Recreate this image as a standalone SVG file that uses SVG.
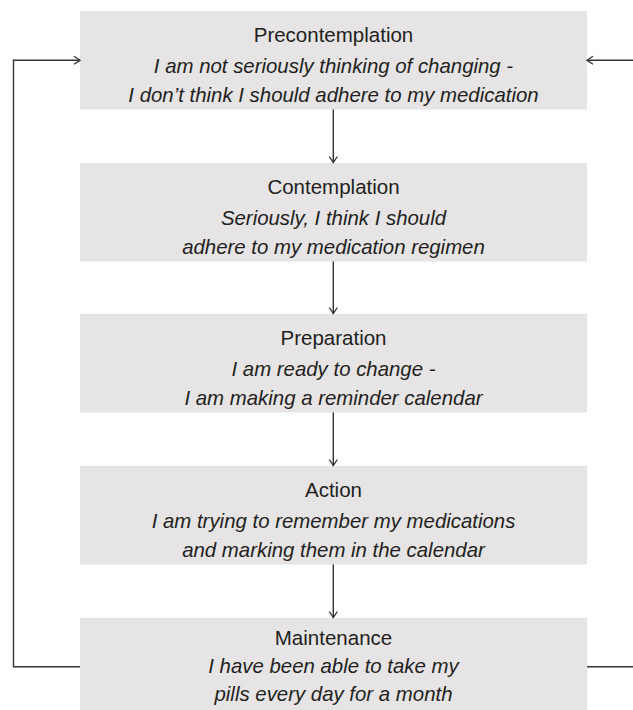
<svg xmlns="http://www.w3.org/2000/svg" width="633" height="710" viewBox="0 0 633 710">
  <defs>
    <style>
      .box { fill: #e6e4e5; }
      .title { font-family: "Liberation Sans", Arial, sans-serif; font-size: 20.5px; fill: #231f20; text-anchor: middle; }
      .desc { font-family: "Liberation Sans", Arial, sans-serif; font-size: 20.4px; font-style: italic; fill: #231f20; text-anchor: middle; }
      .link { fill: none; stroke: #333333; stroke-width: 1.4; }
    </style>
    <marker id="chev" viewBox="0 0 10 10" refX="9" refY="5" markerWidth="10" markerHeight="10" markerUnits="userSpaceOnUse" orient="auto">
      <path d="M3,1 L9,5 L3,9" fill="none" stroke="#333333" stroke-width="1.3"/>
    </marker>
  </defs>

  <g id="precontemplation">
    <rect class="box" x="80" y="11" width="507" height="98.5"/>
    <text class="title" x="333.5" y="42">Precontemplation</text>
    <text class="desc" x="333.5" y="73">I am not seriously thinking of changing -</text>
    <text class="desc" x="333.5" y="102">I don’t think I should adhere to my medication</text>
  </g>

  <g id="contemplation">
    <rect class="box" x="80" y="163" width="507" height="98.5"/>
    <text class="title" x="333.5" y="194">Contemplation</text>
    <text class="desc" x="333.5" y="225">Seriously, I think I should</text>
    <text class="desc" x="333.5" y="254">adhere to my medication regimen</text>
  </g>

  <g id="preparation">
    <rect class="box" x="80" y="314" width="507" height="98.5"/>
    <text class="title" x="333.5" y="345">Preparation</text>
    <text class="desc" x="333.5" y="376">I am ready to change -</text>
    <text class="desc" x="333.5" y="405">I am making a reminder calendar</text>
  </g>

  <g id="action">
    <rect class="box" x="80" y="466" width="507" height="98.5"/>
    <text class="title" x="333.5" y="497">Action</text>
    <text class="desc" x="333.5" y="528">I am trying to remember my medications</text>
    <text class="desc" x="333.5" y="557">and marking them in the calendar</text>
  </g>

  <g id="maintenance">
    <rect class="box" x="80" y="618" width="507" height="98.5"/>
    <text class="title" x="333.5" y="645">Maintenance</text>
    <text class="desc" x="333.5" y="673">I have been able to take my</text>
    <text class="desc" x="333.5" y="701">pills every day for a month</text>
  </g>

  <g id="connectors">
    <line class="link" x1="333.3" y1="109.5" x2="333.3" y2="162.5" marker-end="url(#chev)"/>
    <line class="link" x1="333.3" y1="261.5" x2="333.3" y2="313.5" marker-end="url(#chev)"/>
    <line class="link" x1="333.3" y1="412.5" x2="333.3" y2="465.5" marker-end="url(#chev)"/>
    <line class="link" x1="333.3" y1="564.5" x2="333.3" y2="617.5" marker-end="url(#chev)"/>
    <path class="link" d="M80,666.7 H13.5 V60.3 H80" marker-end="url(#chev)"/>
    <path class="link" d="M587,666.7 H645 V60.3 H587" marker-end="url(#chev)"/>
  </g>
</svg>
